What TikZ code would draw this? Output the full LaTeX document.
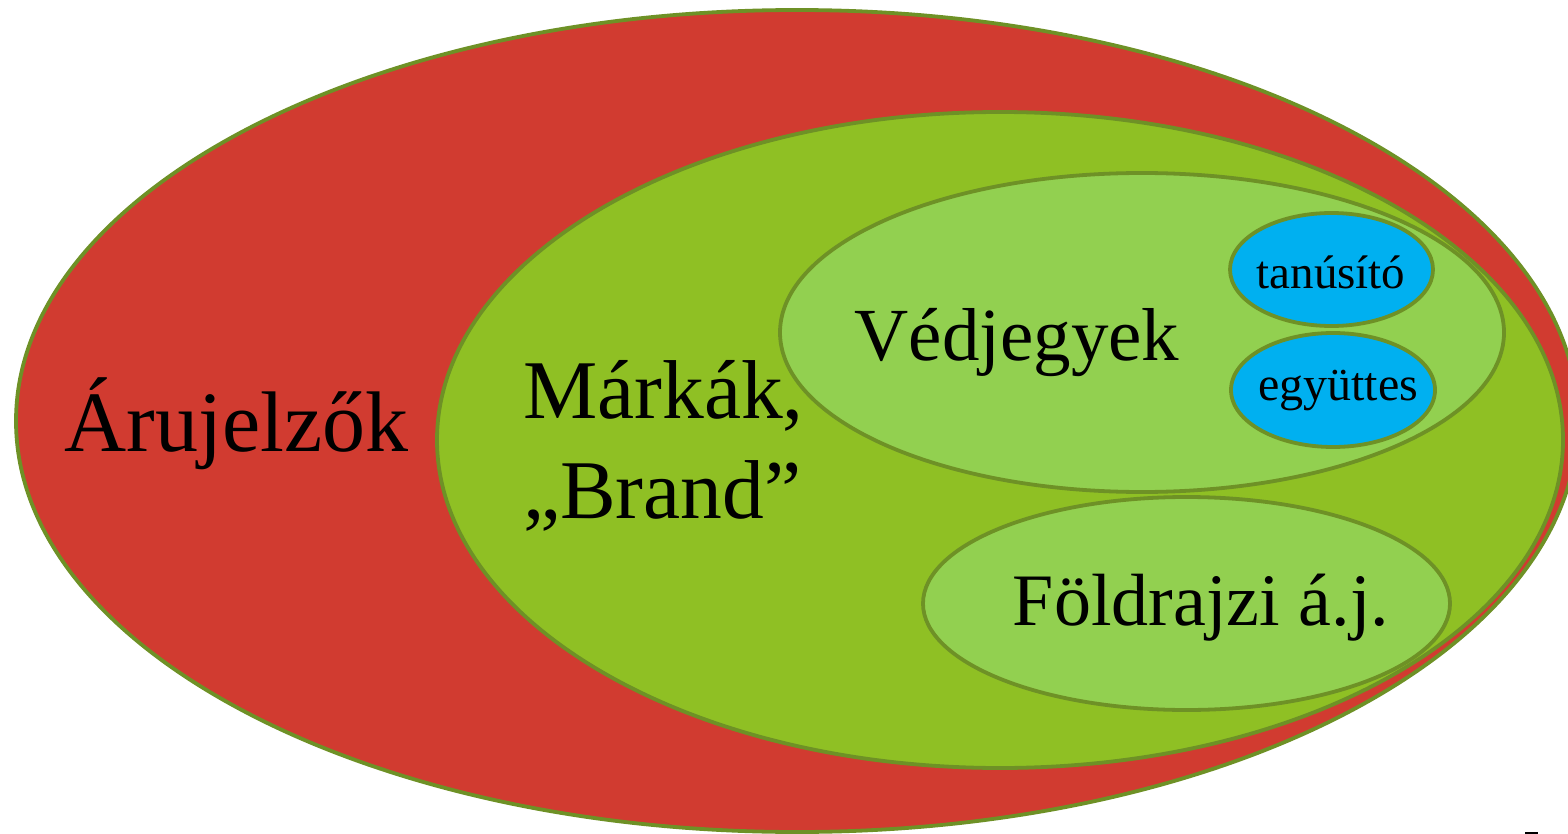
\documentclass[tikz,border=0pt]{standalone}
\usepackage{fontspec}
\setmainfont{Liberation Serif}
\definecolor{redfill}{RGB}{209,59,48}
\definecolor{darkgreen}{RGB}{143,192,36}
\definecolor{lightgreen}{RGB}{146,208,80}
\definecolor{bluefill}{RGB}{0,176,240}
\definecolor{rim}{RGB}{110,145,38}
\tikzset{
  setborder/.style={draw=rim, line width=3.8pt},
  bigtext/.style={inner sep=0pt, text=black},
}
\begin{document}
\begin{tikzpicture}[x=1pt,y=-1pt]
\useasboundingbox (0,0) rectangle (1568,834);
\clip (0,0) rectangle (1568,834);
% sets
\path[setborder, fill=redfill] (797,421) ellipse [x radius=781pt, y radius=411pt];
\path[setborder, fill=darkgreen] (1000,440) ellipse [x radius=563pt, y radius=328pt];
\path[setborder, fill=lightgreen] (1142,332.5) ellipse [x radius=362pt, y radius=159.5pt];
\path[setborder, fill=lightgreen] (1186.5,603.5) ellipse [x radius=263.5pt, y radius=106.5pt];
\path[setborder, fill=bluefill] (1331.5,269.5) ellipse [x radius=101.5pt, y radius=56.5pt];
\path[setborder, fill=bluefill] (1333,390) ellipse [x radius=102pt, y radius=57pt];
% labels
\node[bigtext, anchor=base] (aru) at (236.5,451) {\fontsize{86}{100}\selectfont Árujelzők};
\node[bigtext, anchor=base west] (marka1) at (523,418) {\fontsize{83.5}{100}\selectfont Márkák,};
\node[bigtext, anchor=base west] (marka2) at (523,518) {\fontsize{83.5}{100}\selectfont „Brand”};
\node[bigtext, anchor=base] (ved) at (1017,360) {\fontsize{75}{90}\selectfont Védjegyek};
\node[bigtext, anchor=base] (fold) at (1201,625) {\fontsize{74}{90}\selectfont Földrajzi á.j.};
\node[bigtext, anchor=base] (tan) at (1331,288) {\fontsize{47}{56}\selectfont tanúsító};
\node[bigtext, anchor=base] (egy) at (1338,400) {\fontsize{48}{56}\selectfont együttes};
% small mark
\coordinate (m1) at (1525,832.5);
\coordinate (m2) at (1538,832.5);
\draw[line width=2pt] (m1) -- (m2);
\end{tikzpicture}
\end{document}
